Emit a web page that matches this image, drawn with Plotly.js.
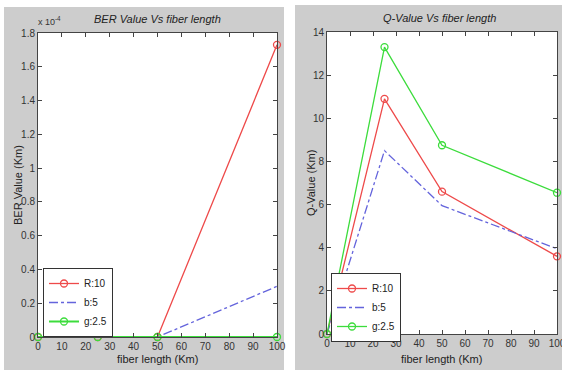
<!DOCTYPE html>
<html>
<head>
<meta charset="utf-8">
<script src="https://cdn.plot.ly/plotly-3.0.1.min.js"></script>
<style>html,body{margin:0;padding:0;background:#fff;}#chart{width:562px;height:373px;}</style>
</head>
<body>
<div id="chart"></div>
<script>
// fiber lengths (Km)
const fiberLength = [0, 25, 50, 100];
// BER values
const berR10 = [0, 0, 0, 1.73e-4];
const berB5 = [0, 0, 0, 0.30e-4];
const berG25 = [0, 0, 0, 0];
// Q values
const qR10 = [0, 10.9, 6.6, 3.6];
const qB5 = [0, 8.5, 5.95, 3.95];
const qG25 = [0, 13.3, 8.75, 6.55];
const seriesNames = ['R:10', 'b:5', 'g:2.5'];
const xTicks = [0, 10, 20, 30, 40, 50, 60, 70, 80, 90, 100];
const berTicks = [0, 0.2, 0.4, 0.6, 0.8, 1, 1.2, 1.4, 1.6, 1.8];
const qTicks = [0, 2, 4, 6, 8, 10, 12, 14];

const RED = '#ee4a4a', BLUE = '#6464dc', GREEN = '#3cdc3c';
const W = 562, H = 373;
const px = v => v / W, py = v => 1 - v / H;
const FONT = 'Liberation Sans, Arial, sans-serif';

function tr(x, y, name, color, dash, marker, xa, ya, leg) {
  return {
    x: x, y: y, name: name, type: 'scatter',
    mode: marker ? 'lines+markers' : 'lines',
    line: {color: color, width: 1.3, dash: dash},
    marker: {symbol: 'circle-open', size: 7, color: color, line: {width: 1.3, color: color}},
    xaxis: xa, yaxis: ya, legend: leg, showlegend: true, cliponaxis: false
  };
}

const data = [
  tr(fiberLength, berR10, seriesNames[0], RED, 'solid', true, 'x', 'y', 'legend'),
  tr(fiberLength, berB5, seriesNames[1], BLUE, 'dashdot', false, 'x', 'y', 'legend'),
  tr(fiberLength, berG25, seriesNames[2], GREEN, 'solid', true, 'x', 'y', 'legend'),
  tr(fiberLength, qR10, seriesNames[0], RED, 'solid', true, 'x2', 'y2', 'legend2'),
  tr(fiberLength, qB5, seriesNames[1], BLUE, 'dashdot', false, 'x2', 'y2', 'legend2'),
  tr(fiberLength, qG25, seriesNames[2], GREEN, 'solid', true, 'x2', 'y2', 'legend2')
];
data[2].line.width = 2;

const tickFont = {family: FONT, size: 10, color: '#333'};
const axBase = {
  showline: true, linecolor: '#444', linewidth: 1, mirror: 'allticks',
  ticks: 'inside', ticklen: 4, tickcolor: '#444', showgrid: false, zeroline: false,
  tickfont: tickFont, ticklabeloverflow: 'allow'
};

const p1 = {x0: 38, x1: 277, y0: 33, y1: 337};
const p2 = {x0: 327, x1: 557, y0: 32, y1: 334};

function ann(x, y, text, size, angle) {
  return {xref: 'paper', yref: 'paper', x: px(x), y: py(y), xanchor: 'center', yanchor: 'middle',
    text: text, showarrow: false, textangle: angle || 0, font: {family: FONT, size: size, color: '#222'}};
}

const layout = {
  width: W, height: H,
  margin: {l: 0, r: 0, t: 0, b: 0},
  paper_bgcolor: '#ffffff', plot_bgcolor: '#ffffff',
  shapes: [
    {type: 'rect', xref: 'paper', yref: 'paper', x0: px(4), x1: px(284), y0: py(370), y1: py(7), fillcolor: '#cdcdcd', line: {width: 0}, layer: 'below'},
    {type: 'rect', xref: 'paper', yref: 'paper', x0: px(295), x1: 1, y0: py(370), y1: py(5), fillcolor: '#cdcdcd', line: {width: 0}, layer: 'below'},
    {type: 'rect', xref: 'paper', yref: 'paper', x0: px(p1.x0), x1: px(p1.x1), y0: py(p1.y1), y1: py(p1.y0), fillcolor: '#ffffff', line: {width: 0}, layer: 'below'},
    {type: 'rect', xref: 'paper', yref: 'paper', x0: px(p2.x0), x1: px(p2.x1), y0: py(p2.y1), y1: py(p2.y0), fillcolor: '#ffffff', line: {width: 0}, layer: 'below'}
  ],
  xaxis: Object.assign({}, axBase, {domain: [px(p1.x0), px(p1.x1)], range: [0, 100], tickvals: xTicks, anchor: 'y'}),
  yaxis: Object.assign({}, axBase, {domain: [py(p1.y1), py(p1.y0)], range: [0, 1.8e-4], anchor: 'x',
    tickvals: berTicks.map(v => v * 1e-4), ticktext: berTicks.map(v => String(v))}),
  xaxis2: Object.assign({}, axBase, {domain: [px(p2.x0), px(p2.x1)], range: [0, 100], tickvals: xTicks, anchor: 'y2'}),
  yaxis2: Object.assign({}, axBase, {domain: [py(p2.y1), py(p2.y0)], range: [0, 14], tickvals: qTicks, anchor: 'x2'}),
  legend: {x: px(43), y: py(268), xanchor: 'left', yanchor: 'top', bgcolor: '#ffffff',
    bordercolor: '#333', borderwidth: 1, font: {family: FONT, size: 10, color: '#222'},
    tracegroupgap: 0, itemwidth: 30},
  legend2: {x: px(331), y: py(273), xanchor: 'left', yanchor: 'top', bgcolor: '#ffffff',
    bordercolor: '#333', borderwidth: 1, font: {family: FONT, size: 10, color: '#222'},
    tracegroupgap: 0, itemwidth: 30},
  annotations: [
    ann(157, 19, '<i>BER Value Vs fiber length</i>', 11),
    ann(439, 18, '<i>Q-Value Vs fiber length</i>', 11),
    ann(157, 359, 'fiber length (Km)', 11),
    ann(441, 359, 'fiber length (Km)', 11),
    ann(18, 185, 'BER Value (Km)', 11, -90),
    ann(311, 183, 'Q-Value (Km)', 11, -90),
    {xref: 'paper', yref: 'paper', x: px(36), y: py(21), xanchor: 'left', yanchor: 'middle',
      text: 'x 10<sup>-4</sup>', showarrow: false, font: {family: FONT, size: 9, color: '#333'}}
  ]
};

Plotly.newPlot('chart', data, layout, {displayModeBar: false, staticPlot: true});
</script>
</body>
</html>
